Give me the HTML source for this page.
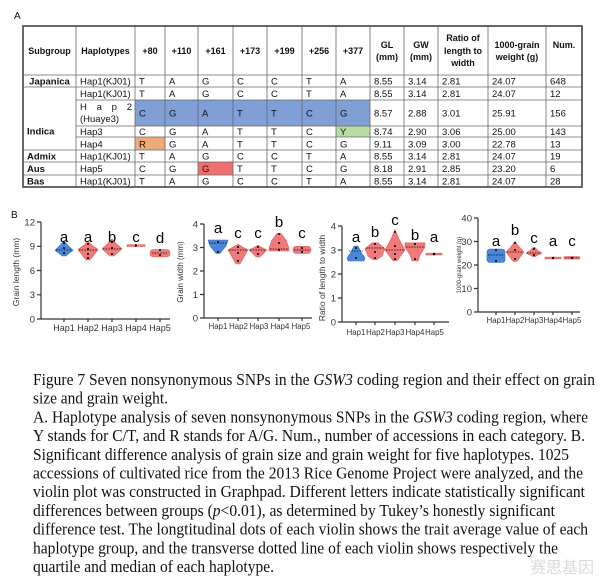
<!DOCTYPE html>
<html><head><meta charset="utf-8"><style>
html,body{margin:0;padding:0;background:#fff;}
svg{display:block;}
.t{font-family:"Liberation Sans",sans-serif;font-size:9.5px;fill:#111;}
.h{font-family:"Liberation Sans",sans-serif;font-size:9px;font-weight:bold;fill:#111;text-anchor:middle;}
.tk{font-family:"Liberation Sans",sans-serif;font-size:9.5px;fill:#333;text-anchor:end;}
.hp{font-family:"Liberation Sans",sans-serif;font-size:9px;fill:#333;text-anchor:middle;}
.hs{font-family:"Liberation Sans",sans-serif;font-size:7.8px;fill:#333;text-anchor:middle;}
.lt{font-family:"Liberation Sans",sans-serif;font-size:15px;fill:#000;text-anchor:middle;}
.cap{font-family:"Liberation Serif",serif;font-size:17px;fill:#111;}
.b{fill:#4a86d8;stroke:#3a70c0;stroke-width:.6}
.r{fill:#f07a7a;stroke:#e06060;stroke-width:.6}
.ax{stroke:#333;stroke-width:1.2;fill:none}
.dl{stroke:#000;stroke-width:.7;stroke-dasharray:1.5,1.2}
</style></head><body>
<svg width="600" height="584" viewBox="0 0 600 584" xmlns="http://www.w3.org/2000/svg">
<text x="14" y="19" class="t" style="font-size:10px">A</text>
<rect x="135" y="100" width="235" height="26" fill="#7f9fd6"/>
<rect x="336" y="126" width="34" height="11" fill="#b8dca2"/>
<rect x="135" y="137" width="30" height="13" fill="#f0aa7a"/>
<rect x="198" y="162" width="35" height="13" fill="#f07070"/>
<g stroke="#666" stroke-width=".8">
<line x1="23" y1="75" x2="582" y2="75"/>
<line x1="23" y1="87" x2="582" y2="87"/>
<line x1="76" y1="100" x2="582" y2="100"/>
<line x1="76" y1="126" x2="582" y2="126"/>
<line x1="76" y1="137" x2="582" y2="137"/>
<line x1="23" y1="150" x2="582" y2="150"/>
<line x1="23" y1="162" x2="582" y2="162"/>
<line x1="23" y1="175" x2="582" y2="175"/>
<line x1="76" y1="26" x2="76" y2="187"/><line x1="135" y1="26" x2="135" y2="187"/>
<line x1="165" y1="26" x2="165" y2="187"/><line x1="198" y1="26" x2="198" y2="187"/>
<line x1="233" y1="26" x2="233" y2="187"/><line x1="267" y1="26" x2="267" y2="187"/>
<line x1="302" y1="26" x2="302" y2="187"/><line x1="336" y1="26" x2="336" y2="187"/>
<line x1="370" y1="26" x2="370" y2="187"/><line x1="404" y1="26" x2="404" y2="187"/>
<line x1="438" y1="26" x2="438" y2="187"/><line x1="488" y1="26" x2="488" y2="187"/>
<line x1="546" y1="26" x2="546" y2="187"/>
</g>
<rect x="23" y="26" width="559" height="161" fill="none" stroke="#444" stroke-width="1.6"/>
<text class="h" x="49.5" y="54">Subgroup</text>
<text class="h" x="105.5" y="54">Haplotypes</text>
<text class="h" x="150" y="54">+80</text><text class="h" x="181.5" y="54">+110</text>
<text class="h" x="215.5" y="54">+161</text><text class="h" x="250" y="54">+173</text>
<text class="h" x="284.5" y="54">+199</text><text class="h" x="319" y="54">+256</text>
<text class="h" x="353" y="54">+377</text>
<text class="h" x="387" y="48">GL</text><text class="h" x="387" y="60">(mm)</text>
<text class="h" x="421" y="48">GW</text><text class="h" x="421" y="60">(mm)</text>
<text class="h" x="463" y="41">Ratio of</text><text class="h" x="463" y="54">length to</text><text class="h" x="463" y="66">width</text>
<text class="h" x="517" y="48">1000-grain</text><text class="h" x="517" y="60">weight (g)</text>
<text class="h" x="564" y="48">Num.</text>
<g class="t">
<text x="49.5" y="84.5" text-anchor="middle" font-weight="bold">Japanica</text>
<text x="27" y="134.5" font-weight="bold">Indica</text>
<text x="27" y="159.5" font-weight="bold">Admix</text>
<text x="27" y="172" font-weight="bold">Aus</text>
<text x="27" y="184.5" font-weight="bold">Bas</text>
<text x="80" y="84.5">Hap1(KJ01)</text>
<text x="80" y="97">Hap1(KJ01)</text>
<text x="80" y="110" textLength="52" lengthAdjust="spacing">Hap2</text>
<text x="80" y="122">(Huaye3)</text>
<text x="80" y="135">Hap3</text>
<text x="80" y="147.5">Hap4</text>
<text x="80" y="159.5">Hap1(KJ01)</text>
<text x="80" y="172">Hap5</text>
<text x="80" y="184.5">Hap1(KJ01)</text>
</g>
<g class="t">
<g transform="translate(0,84.5)"><text x="139">T</text><text x="169">A</text><text x="202">G</text><text x="237">C</text><text x="271">C</text><text x="306">T</text><text x="340">A</text><text x="374">8.55</text><text x="408">3.14</text><text x="442">2.81</text><text x="492">24.07</text><text x="550">648</text></g>
<g transform="translate(0,97)"><text x="139">T</text><text x="169">A</text><text x="202">G</text><text x="237">C</text><text x="271">C</text><text x="306">T</text><text x="340">A</text><text x="374">8.55</text><text x="408">3.14</text><text x="442">2.81</text><text x="492">24.07</text><text x="550">12</text></g>
<g transform="translate(0,116.5)"><text x="139">C</text><text x="169">G</text><text x="202">A</text><text x="237">T</text><text x="271">T</text><text x="306">C</text><text x="340">G</text><text x="374">8.57</text><text x="408">2.88</text><text x="442">3.01</text><text x="492">25.91</text><text x="550">156</text></g>
<g transform="translate(0,135)"><text x="139">C</text><text x="169">G</text><text x="202">A</text><text x="237">T</text><text x="271">T</text><text x="306">C</text><text x="340">Y</text><text x="374">8.74</text><text x="408">2.90</text><text x="442">3.06</text><text x="492">25.00</text><text x="550">143</text></g>
<g transform="translate(0,147.5)"><text x="139">R</text><text x="169">G</text><text x="202">A</text><text x="237">T</text><text x="271">T</text><text x="306">C</text><text x="340">G</text><text x="374">9.11</text><text x="408">3.09</text><text x="442">3.00</text><text x="492">22.78</text><text x="550">13</text></g>
<g transform="translate(0,159.5)"><text x="139">T</text><text x="169">A</text><text x="202">G</text><text x="237">C</text><text x="271">C</text><text x="306">T</text><text x="340">A</text><text x="374">8.55</text><text x="408">3.14</text><text x="442">2.81</text><text x="492">24.07</text><text x="550">19</text></g>
<g transform="translate(0,172)"><text x="139">C</text><text x="169">G</text><text x="202">G</text><text x="237">T</text><text x="271">T</text><text x="306">C</text><text x="340">G</text><text x="374">8.18</text><text x="408">2.91</text><text x="442">2.85</text><text x="492">23.20</text><text x="550">6</text></g>
<g transform="translate(0,184.5)"><text x="139">T</text><text x="169">A</text><text x="202">G</text><text x="237">C</text><text x="271">C</text><text x="306">T</text><text x="340">A</text><text x="374">8.55</text><text x="408">3.14</text><text x="442">2.81</text><text x="492">24.07</text><text x="550">28</text></g>
</g>

<text x="11" y="218" class="t" style="font-size:10px">B</text>

<!-- Chart 1 -->
<path class="ax" d="M41,222 V319 H170 M37,222 H41 M37,246.3 H41 M37,270.5 H41 M37,294.8 H41 M37,319 H41 M64,319 v3 M88,319 v3 M112,319 v3 M136,319 v3 M160,319 v3"/>
<g class="tk"><text x="35" y="225.5">12</text><text x="35" y="249.5">9</text><text x="35" y="274">6</text><text x="35" y="298">3</text><text x="35" y="322.5">0</text></g>
<text class="hp" transform="translate(19,272) rotate(-90)" style="font-size:8.5px">Grain length (mm)</text>
<g class="hp"><text x="64" y="331">Hap1</text><text x="88" y="331">Hap2</text><text x="112" y="331">Hap3</text><text x="136" y="331">Hap4</text><text x="160" y="331">Hap5</text></g>
<polygon class="b" points="64,240.6 68,245.5 73,250.3 69.4,253 65.8,256 62.2,256 58.6,253 55,250.3 60,245.5"/>
<polygon class="r" points="88,241.4 92.5,245.5 98,249.5 94,255 90,260 86,260 82,255 78,249.5 83.5,245.5"/>
<polygon class="r" points="112,239 116.5,244 122,248.7 118,252.4 114,256 110,256 106,252.4 102,248.7 107.5,244"/>
<rect class="r" x="127" y="244.7" width="18" height="1.8"/>
<rect class="r" x="150" y="249.5" width="20" height="7.3" rx="3"/>
<g class="lt"><text x="64" y="242">a</text><text x="88" y="242">a</text><text x="112" y="242">b</text><text x="136" y="242">c</text><text x="160" y="243">d</text></g>

<!-- Chart 2 -->
<path class="ax" d="M204,224 V318 H312 M200,224 H204 M200,247.5 H204 M200,271 H204 M200,294.5 H204 M200,318 H204 M218,318 v3 M238,318 v3 M258,318 v3 M279,318 v3 M302,318 v3"/>
<g class="tk"><text x="198" y="227.5">4</text><text x="198" y="251">3</text><text x="198" y="274.5">2</text><text x="198" y="298">1</text><text x="198" y="321.5">0</text></g>
<text class="hp" transform="translate(183,272) rotate(-90)" style="font-size:8px">Grain width (mm)</text>
<g class="hs"><text x="218" y="329">Hap1</text><text x="238.5" y="329">Hap2</text><text x="259" y="329">Hap3</text><text x="280" y="329">Hap4</text><text x="301" y="329">Hap5</text></g>
<polygon class="b" points="208,240 228,240 226,246 221,252 220,253.4 216,253.4 215,252 210,246"/>
<polygon class="r" points="238,244 242.5,247 248,249.9 244,257 240,264 236,264 232,257 228,249.9 233.5,247"/>
<polygon class="r" points="258,245.2 262,247.5 267,249.9 263.4,253.4 259.8,256.9 256.2,256.9 252.6,253.4 249,249.9 254,247.5"/>
<polygon class="r" points="277,233.4 281,233.4 286,240 289,248 289,251 269,251 269,248 272,240"/>
<rect class="r" x="293" y="246.3" width="18" height="7.1" rx="3"/>
<g class="lt"><text x="218" y="233">a</text><text x="238" y="238">c</text><text x="258" y="238">c</text><text x="279" y="227">b</text><text x="302" y="238">c</text></g>

<!-- Chart 3 -->
<path class="ax" d="M342,226 V322 H449 M338,226 H342 M338,250 H342 M338,274 H342 M338,298 H342 M338,322 H342 M356,322 v3 M375,322 v3 M395,322 v3 M415,322 v3 M434,322 v3"/>
<g class="tk"><text x="336" y="229.5">4</text><text x="336" y="253.5">3</text><text x="336" y="277.5">2</text><text x="336" y="301.5">1</text><text x="336" y="325.5">0</text></g>
<text class="hp" transform="translate(325,278) rotate(-90)" style="font-size:8.5px">Ratio of length to width</text>
<g class="hs"><text x="356" y="335">Hap1</text><text x="375.5" y="335">Hap2</text><text x="395" y="335">Hap3</text><text x="415" y="335">Hap4</text><text x="434.5" y="335">Hap5</text></g>
<polygon class="b" points="354,246 358,246 361,252 365,258 364,261 348,261 347,258 351,252"/>
<polygon class="r" points="372,242.8 378,242.8 385,248.8 382,256 377,259.6 373,259.6 368,256 365,248.8"/>
<polygon class="r" points="395,229.6 399.5,240 405,250 401,255.4 397,260.8 393,260.8 389,255.4 385,250 390.5,240"/>
<polygon class="r" points="405,242.8 425,242.8 425,247 420,255 418,260.8 412,260.8 410,255 405,247"/>
<rect class="r" x="426" y="253.2" width="16" height="1.8"/>
<g class="lt"><text x="356" y="242">a</text><text x="375" y="237">b</text><text x="395" y="225">c</text><text x="415" y="240">b</text><text x="434" y="242">a</text></g>

<!-- Chart 4 -->
<path class="ax" d="M478,218 V312 H580 M474,218 H478 M474,241.5 H478 M474,265 H478 M474,288.5 H478 M474,312 H478 M496,312 v3 M515,312 v3 M534,312 v3 M553,312 v3 M572,312 v3"/>
<g class="tk"><text x="472" y="221.5">40</text><text x="472" y="245">30</text><text x="472" y="268.5">20</text><text x="472" y="292">10</text><text x="472" y="315.5">0</text></g>
<text class="hp" transform="translate(461,265) rotate(-90)" style="font-size:6px">1000-grain weight (g)</text>
<g class="hs"><text x="496" y="323">Hap1</text><text x="515" y="323">Hap2</text><text x="534" y="323">Hap3</text><text x="553" y="323">Hap4</text><text x="572" y="323">Hap5</text></g>
<rect class="b" x="487" y="249" width="18" height="13.5" rx="3"/>
<polygon class="r" points="515,241.5 519,246.7 524,252 520.4,256.7 516.8,261.5 513.2,261.5 509.6,256.7 506,252 511,246.7"/>
<polygon class="r" points="533,247.4 535,247.4 538,250.5 542,253.2 538,255 535,256.8 533,256.8 530,255 526,253.2 530,250.5"/>
<rect class="r" x="545" y="257.1" width="16" height="1.8"/>
<rect class="r" x="564" y="256.5" width="16" height="2.6" rx="1"/>
<g class="lt"><text x="496" y="246">a</text><text x="515" y="235">b</text><text x="534" y="243">c</text><text x="553" y="246">a</text><text x="572" y="246">c</text></g>

<g class="dl">
<path d="M56,250 H72 M79,250 H97 M103,249 H121 M152,253 H168 M209,243 H227 M229,250 H247 M250,250 H266 M270,249 H288 M294,250 H310 M349,251 H363 M366,248 H384 M386,250 H404 M406,247 H424 M488,255 H504 M507,252 H523 M527,253 H541 M565,257.8 H579"/>
</g>
<g fill="#000">
<circle cx="64" cy="243" r="1"/><circle cx="64" cy="248" r="1"/><circle cx="64" cy="253" r="1"/>
<circle cx="88" cy="244" r="1"/><circle cx="88" cy="249" r="1"/><circle cx="88" cy="254" r="1"/><circle cx="88" cy="258" r="1"/>
<circle cx="112" cy="242" r="1"/><circle cx="112" cy="248" r="1"/><circle cx="112" cy="254" r="1"/>
<circle cx="136" cy="245.5" r="1.2"/><circle cx="160" cy="250" r="1"/><circle cx="160" cy="255" r="1"/>
<circle cx="218" cy="242" r="1"/><circle cx="218" cy="252" r="1"/>
<circle cx="238" cy="247" r="1"/><circle cx="238" cy="253" r="1"/><circle cx="238" cy="261" r="1"/>
<circle cx="258" cy="247" r="1"/><circle cx="258" cy="254" r="1"/>
<circle cx="279" cy="234" r="1"/><circle cx="279" cy="243" r="1"/><circle cx="279" cy="250" r="1"/>
<circle cx="302" cy="248" r="1"/><circle cx="302" cy="252" r="1"/>
<circle cx="356" cy="248" r="1"/><circle cx="356" cy="258" r="1"/>
<circle cx="375" cy="244" r="1"/><circle cx="375" cy="252" r="1"/><circle cx="375" cy="258" r="1"/>
<circle cx="395" cy="232" r="1"/><circle cx="395" cy="246" r="1"/><circle cx="395" cy="254" r="1"/><circle cx="395" cy="259" r="1"/>
<circle cx="415" cy="244" r="1"/><circle cx="415" cy="259" r="1"/><circle cx="434" cy="254" r="1.2"/>
<circle cx="496" cy="250" r="1"/><circle cx="496" cy="261" r="1"/>
<circle cx="515" cy="243" r="1"/><circle cx="515" cy="250" r="1"/><circle cx="515" cy="259" r="1"/>
<circle cx="534" cy="249" r="1"/><circle cx="534" cy="255" r="1"/><circle cx="553" cy="258" r="1.2"/><circle cx="572" cy="257.8" r="1.2"/>
</g>

<g class="cap">
<text x="33" y="385" textLength="562" lengthAdjust="spacingAndGlyphs">Figure 7 Seven nonsynonymous SNPs in the <tspan font-style="italic">GSW3</tspan> coding region and their effect on grain</text>
<text x="33" y="403.7" textLength="135" lengthAdjust="spacingAndGlyphs">size and grain weight.</text>
<text x="33" y="422.4" textLength="555" lengthAdjust="spacingAndGlyphs">A. Haplotype analysis of seven nonsynonymous SNPs in the <tspan font-style="italic">GSW3</tspan> coding region, where</text>
<text x="33" y="441.1" textLength="552" lengthAdjust="spacingAndGlyphs">Y stands for C/T, and R stands for A/G. Num., number of accessions in each category. B.</text>
<text x="33" y="459.8" textLength="536" lengthAdjust="spacingAndGlyphs">Significant difference analysis of grain size and grain weight for five haplotypes. 1025</text>
<text x="33" y="478.5" textLength="550" lengthAdjust="spacingAndGlyphs">accessions of cultivated rice from the 2013 Rice Genome Project were analyzed, and the</text>
<text x="33" y="497.2" textLength="552" lengthAdjust="spacingAndGlyphs">violin plot was constructed in Graphpad. Different letters indicate statistically significant</text>
<text x="33" y="515.9" textLength="522" lengthAdjust="spacingAndGlyphs">differences between groups (<tspan font-style="italic">p</tspan>&lt;0.01), as determined by Tukey’s honestly significant</text>
<text x="33" y="534.6" textLength="555" lengthAdjust="spacingAndGlyphs">difference test. The longtitudinal dots of each violin shows the trait average value of each</text>
<text x="33" y="553.3" textLength="525" lengthAdjust="spacingAndGlyphs">haplotype group, and the transverse dotted line of each violin shows respectively the</text>
<text x="33" y="572" textLength="241" lengthAdjust="spacingAndGlyphs">quartile and median of each haplotype.</text>
</g>
<text x="530" y="573" font-family="'Noto Sans CJK SC',sans-serif" font-size="16" fill="#ccc" opacity=".7">赛思基因</text>
</svg>
</body></html>
